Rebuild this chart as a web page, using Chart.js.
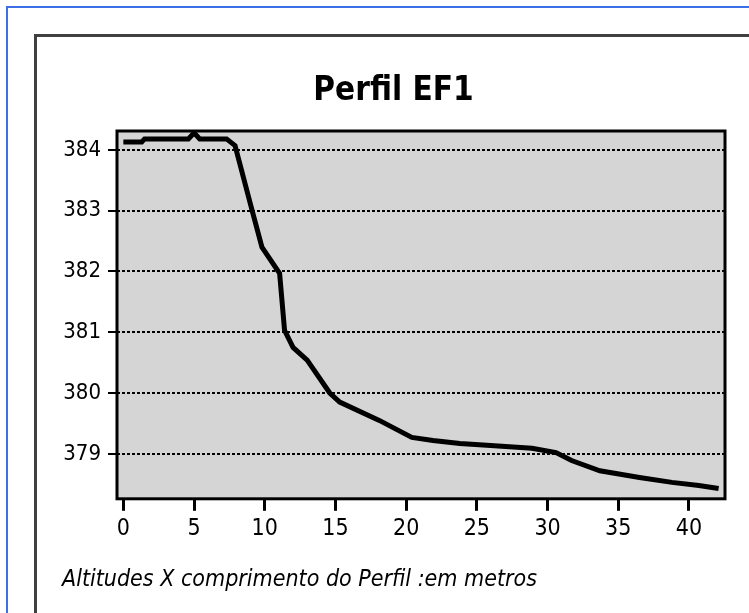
<!DOCTYPE html>
<html>
<head>
<meta charset="utf-8">
<script src="https://cdn.jsdelivr.net/npm/chart.js@4/dist/chart.umd.min.js"></script>
<style>
  html, body { margin: 0; padding: 0; background: #fff; width: 749px; height: 613px; overflow: hidden; }
  #blueTop { position: absolute; left: 6px; top: 6px; width: 743px; height: 2px; background: #3d6fe6; }
  #blueLeft { position: absolute; left: 6px; top: 6px; width: 2px; height: 607px; background: #3d6fe6; }
  #frame { position: absolute; left: 34px; top: 34px; width: 760px; height: 620px; border-left: 3px solid #404040; border-top: 3px solid #404040; box-sizing: border-box; }
  #wrap { position: absolute; left: 37px; top: 37px; width: 712px; height: 576px; }
</style>
</head>
<body>
<div id="blueTop"></div>
<div id="blueLeft"></div>
<div id="frame"></div>
<div id="wrap"><canvas id="c" width="712" height="576"></canvas></div>
<script>
const chartTitle = "Perfil EF1";
const footnote = "Altitudes X comprimento do Perfil :em metros";
const distances = [0, 1.3, 1.5, 4.6, 5.0, 5.4, 7.3, 7.9, 9.1, 9.8, 11.05, 11.4, 12.0, 13.0, 14.6, 15.3, 18.1, 20.4, 21.9, 23.8, 25.7, 28.9, 30.6, 31.7, 33.7, 36.5, 38.8, 40.7, 42.1];
const altitudes = [384.13, 384.13, 384.18, 384.18, 384.28, 384.18, 384.18, 384.07, 383.01, 382.40, 381.97, 381.03, 380.75, 380.54, 380.0, 379.85, 379.55, 379.27, 379.22, 379.17, 379.14, 379.09, 379.02, 378.89, 378.72, 378.61, 378.53, 378.48, 378.43];
const xTickValues = [0, 5, 10, 15, 20, 25, 30, 35, 40];
const yTickValues = [379, 380, 381, 382, 383, 384];

const FONT = '"Liberation Sans Narrow", "DejaVu Sans Condensed", "Arial Narrow", sans-serif';

const plotBox = {
  id: 'plotBox',
  beforeDraw(chart) {
    const a = chart.chartArea, ctx = chart.ctx;
    ctx.save();
    ctx.fillStyle = '#d5d5d5';
    ctx.fillRect(a.left, a.top, a.right - a.left, a.bottom - a.top);
    ctx.restore();
  },
  afterDraw(chart) {
    const a = chart.chartArea, ctx = chart.ctx;
    ctx.save();
    ctx.strokeStyle = '#000';
    ctx.lineWidth = 3;
    ctx.strokeRect(a.left, a.top, a.right - a.left, a.bottom - a.top);
    ctx.restore();
  }
};

new Chart(document.getElementById('c'), {
  type: 'line',
  data: {
    datasets: [{
      data: distances.map((d, i) => ({ x: d, y: altitudes[i] })),
      borderColor: '#000',
      borderWidth: 5,
      pointRadius: 0,
      tension: 0,
      fill: false
    }]
  },
  options: {
    responsive: false,
    animation: false,
    devicePixelRatio: 1,
    layout: { padding: { left: 25, right: 24, top: 0, bottom: 0 } },
    plugins: {
      legend: { display: false },
      tooltip: { enabled: false },
      title: {
        display: true, text: chartTitle, color: '#000',
        font: { family: FONT, size: 33, weight: 'bold', lineHeight: 1.2 },
        padding: { top: 35, bottom: 19.4 }
      },
      subtitle: {
        display: true, text: footnote, color: '#000', position: 'bottom', align: 'start',
        padding: { top: 17, bottom: 19 },
        font: { family: FONT, size: 23, style: 'italic', weight: 'normal', lineHeight: 1.2 }
      }
    },
    scales: {
      x: {
        type: 'linear', min: -0.45, max: 42.55,
        afterBuildTicks: s => { s.ticks = xTickValues.map(v => ({ value: v })); },
        afterFit: s => { s.height = 50.6; },
        ticks: { color: '#000', padding: 4, font: { family: FONT, size: 23, weight: 'normal' }, maxRotation: 0, includeBounds: false },
        grid: { drawOnChartArea: false, drawTicks: true, tickLength: 12, tickWidth: 3, tickColor: '#000' },
        border: { display: false }
      },
      y: {
        type: 'linear', min: 378.26, max: 384.31,
        afterBuildTicks: s => { s.ticks = yTickValues.map(v => ({ value: v })); },
        afterFit: s => { s.width = 55; },
        ticks: { color: '#000', padding: 7, font: { family: FONT, size: 22, weight: 'normal' }, includeBounds: false },
        grid: { color: '#000', lineWidth: 2, drawTicks: true, tickLength: 9, tickWidth: 2, tickColor: '#000', tickBorderDash: [] },
        border: { display: false, dash: [3, 2] }
      }
    }
  },
  plugins: [plotBox]
});
</script>
</body>
</html>
